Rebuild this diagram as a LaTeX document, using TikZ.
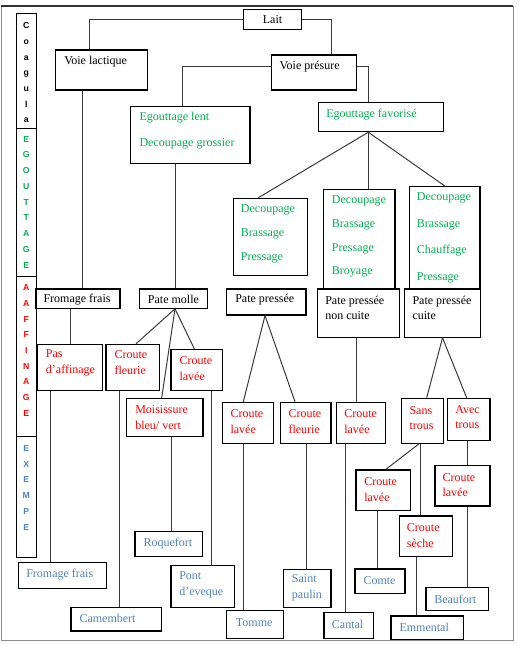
\documentclass[tikz,border=0pt]{standalone}
\usepackage{fontspec}
\setmainfont{Liberation Serif}
\newfontfamily\sidefont{Liberation Sans}
\usetikzlibrary{fit,calc}
\definecolor{grn}{HTML}{00B050}
\definecolor{rd}{HTML}{FF0000}
\definecolor{blu}{HTML}{4F81BD}
\definecolor{ln}{HTML}{3A3A3A}
\tikzset{
 box/.style={draw=black, line width=0.8pt, inner sep=0pt, rectangle},
 con/.style={draw=ln, line width=0.75pt},
 tx/.style={anchor=west, inner sep=0pt, align=left, font=\fontsize{9}{11.8}\selectfont},
 txg/.style={tx, text=grn},
 txr/.style={tx, text=rd},
 txb/.style={tx, text=blu},
 side/.style={align=center, inner sep=0pt, font=\sidefont\bfseries\fontsize{6.5}{11.8}\selectfont},
}
\begin{document}
\begin{tikzpicture}[x=0.75pt,y=-0.75pt]
\useasboundingbox (0,0) rectangle (518,646);
% outer frame
\draw[draw=black!45, line width=0.6pt] (1,6) rectangle (513,640);
\draw[draw=black!80, line width=1.5pt] (1,6) -- (513,6);

% side bar
\node[box, line width=0.7pt, fit={(16,13) (36,128)}] (s1) {};
\node[box, line width=0.7pt, fit={(16,128) (36,276)}] (s2) {};
\node[box, line width=0.7pt, fit={(16,276) (36,436)}] (s3) {};
\node[box, line width=0.7pt, fit={(16,436) (36,557)}] (s4) {};
\node[side] (l1) at (26.3,72.8) {C\\o\\a\\g\\u\\l\\a};
\node[side, text=grn] (l2) at (26.3,202.2) {E\\G\\O\\U\\T\\T\\A\\G\\E};
\node[side, text=rd] (l3) at (26.3,350.5) {A\\A\\F\\F\\I\\N\\A\\G\\E};
\node[side, text=blu] (l4) at (26.3,487.7) {E\\X\\E\\M\\P\\E};

% top levels
\node[box, fit={(243.3,9.3) (301.7,29.3)}] (lait) {};
\node[tx, anchor=center] (tlait) at (lait.center) {Lait};
\node[box, fit={(55.3,50) (147.7,90)}] (vl) {};
\node[tx] (tvl) at (64,61.5) {Voie lactique};
\node[box, fit={(271.7,55) (356.7,90)}] (vp) {};
\node[tx] (tvp) at (279.3,66.7) {Voie présure};
\node[box, fit={(130.7,106.7) (250,163.3)}] (el) {};
\node[txg, font=\fontsize{9}{19.5}\selectfont] (tel) at (139.3,131) {Egouttage lent\\Decoupage grossier};
\node[box, fit={(318.3,102.7) (443.3,131.7)}] (ef) {};
\node[txg] (tef) at (326,114.3) {Egouttage favorisé};

\node[box, fit={(233.3,198.3) (307.3,275.7)}] (bA) {};
\node[txg, font=\fontsize{9}{18}\selectfont] (tbA) at (240.7,234.2) {Decoupage\\Brassage\\Pressage};
\node[box, fit={(323.3,189.3) (395,288.3)}] (bB) {};
\node[txg, font=\fontsize{9}{17.9}\selectfont] (tbB) at (331.7,236.5) {Decoupage\\Brassage\\Pressage\\Broyage};
\node[box, fit={(409.3,186.7) (480,289)}] (bC) {};
\node[txg, font=\fontsize{9}{19.9}\selectfont] (tbC) at (416.7,238) {Decoupage\\Brassage\\Chauffage\\Pressage};

% pate row
\node[box, fit={(35.7,289) (120,308.3)}] (ff) {};
\node[tx] (tff) at (43.3,299.5) {Fromage frais};
\node[box, fit={(139.3,289) (207.3,308.3)}] (pm) {};
\node[tx] (tpm) at (147.7,299.5) {Pate molle};
\node[box, fit={(226.7,289) (306,315)}] (pp) {};
\node[tx] (tpp) at (235,300) {Pate pressée};
\node[box, fit={(317.3,289) (399.3,337.3)}] (ppnc) {};
\node[tx] (tppnc) at (325,308) {Pate pressée\\non cuite};
\node[box, fit={(404.3,289) (480.7,337.3)}] (ppc) {};
\node[tx] (tppc) at (412.3,308) {Pate pressée\\cuite};

% red level
\node[box, fit={(37.7,344.3) (102.7,390.7)}] (pas) {};
\node[txr] (tpas) at (45.7,362.8) {Pas\\d’affinage};
\node[box, fit={(106,344.3) (159.3,390.7)}] (cf1) {};
\node[txr] (tcf1) at (114.3,362.8) {Croute\\fleurie};
\node[box, fit={(171,349.3) (222.7,390.7)}] (cl1) {};
\node[txr] (tcl1) at (179.3,368.8) {Croute\\lavée};
\node[box, fit={(126.3,398.3) (203,436.7)}] (moi) {};
\node[txr] (tmoi) at (135,417.7) {Moisissure\\bleu/ vert};
\node[box, fit={(222.7,402.3) (273.3,443.3)}] (cl2) {};
\node[txr] (tcl2) at (230.3,421.3) {Croute\\lavée};
\node[box, fit={(280.7,402.3) (331,443.3)}] (cf2) {};
\node[txr] (tcf2) at (288.3,421.3) {Croute\\fleurie};
\node[box, fit={(336.7,402.3) (385.7,443.3)}] (cl3) {};
\node[txr] (tcl3) at (344,421.3) {Croute\\lavée};
\node[box, fit={(401.3,398.3) (443.3,443.3)}] (st) {};
\node[txr] (tst) at (409.3,418) {Sans\\trous};
\node[box, fit={(447.3,398.3) (490,440.7)}] (at) {};
\node[txr] (tat) at (455,417.2) {Avec\\trous};
\node[box, fit={(356,470) (410.7,510.7)}] (cl4) {};
\node[txr] (tcl4) at (364,489.5) {Croute\\lavée};
\node[box, fit={(399.3,516) (452.3,556.7)}] (cs) {};
\node[txr] (tcs) at (406.7,535.7) {Croute\\sèche};
\node[box, fit={(435,465.7) (490,506)}] (cl5) {};
\node[txr] (tcl5) at (442.3,485) {Croute\\lavée};

% examples
\node[box, fit={(18.3,562.3) (106.7,588.3)}] (exff) {};
\node[txb] (texff) at (26,574.5) {Fromage frais};
\node[box, fit={(71,607.3) (161.7,631)}] (cam) {};
\node[txb] (tcam) at (79.3,618.5) {Camembert};
\node[box, fit={(135,531.7) (202.7,556.7)}] (roq) {};
\node[txb] (troq) at (143.3,543.5) {Roquefort};
\node[box, fit={(171,565.7) (234.3,607.3)}] (pont) {};
\node[txb] (tpont) at (179,584.7) {Pont\\d’eveque};
\node[box, fit={(226.7,610.7) (283.3,638.3)}] (tom) {};
\node[txb] (ttom) at (235.7,622.5) {Tomme};
\node[box, fit={(283.3,569.3) (331,607.3)}] (sp) {};
\node[txb] (tsp) at (291.7,588) {Saint\\paulin};
\node[box, fit={(324,612.7) (373.3,638.3)}] (can) {};
\node[txb] (tcan) at (331.7,624) {Cantal};
\node[box, fit={(355,569) (405,593.3)}] (com) {};
\node[txb] (tcom) at (363.3,580.5) {Comte};
\node[box, fit={(391,616) (463.3,639.3)}] (emm) {};
\node[txb] (temm) at (399.3,627.2) {Emmental};
\node[box, fit={(426,587.7) (488.3,610.7)}] (bea) {};
\node[txb] (tbea) at (434,599.5) {Beaufort};

% connectors
\draw[con] (lait.west) -| (89,0 |- vl.north);
\draw[con] (lait.east) -| (331,0 |- vp.north);
\draw[con] (vp.west |- 0,66.7) -| (182.7,0 |- el.north);
\draw[con] (vp.east |- 0,66.7) -| (368.3,0 |- ef.north);
\coordinate (efb) at (368.3,0 |- ef.south);
\draw[con] (efb) -- (258.3,0 |- bA.north);
\draw[con] (efb) -- (efb |- bB.north);
\draw[con] (efb) -- (445,0 |- bC.north);
\draw[con] (82.3,0 |- vl.south) -- (82.3,0 |- ff.north);
\draw[con] (175.7,0 |- el.south) -- (175.7,0 |- pm.north);
\draw[con] (70.3,0 |- ff.south) -- (70.3,0 |- pas.north);
\coordinate (pmb) at (175,0 |- pm.south);
\draw[con] (pmb) -- (136,0 |- cf1.north);
\draw[con] (pmb) -- (161.7,0 |- moi.north);
\draw[con] (pmb) -- (194.3,0 |- cl1.north);
\coordinate (ppb) at (265,0 |- pp.south);
\draw[con] (ppb) -- (243.3,0 |- cl2.north);
\draw[con] (ppb) -- (295,0 |- cf2.north);
\draw[con] (356.3,0 |- ppnc.south) -- (356.3,0 |- cl3.north);
\draw[con] (ppc.south) -- (426.7,0 |- st.north);
\draw[con] (ppc.south) -- (466.7,0 |- at.north);
\draw[con] (419,0 |- st.south) -- (385.7,0 |- cl4.north);
\draw[con] (420,0 |- st.south) -- (420,0 |- cs.north);
\draw[con] (467.7,0 |- at.south) -- (467.7,0 |- cl5.north);
\draw[con] (50,0 |- pas.south) -- (50,0 |- exff.north);
\draw[con] (119.3,0 |- cf1.south) -- (119.3,0 |- cam.north);
\draw[con] (171,0 |- moi.south) -- (171,0 |- roq.north);
\draw[con] (211.7,0 |- cl1.south) -- (211.7,0 |- pont.north);
\draw[con] (243,0 |- cl2.south) -- (243,0 |- tom.north);
\draw[con] (306,0 |- cf2.south) -- (306,0 |- sp.north);
\draw[con] (345.7,0 |- cl3.south) -- (345.7,0 |- can.north);
\draw[con] (377.7,0 |- cl4.south) -- (377.7,0 |- com.north);
\draw[con] (416,0 |- cs.south) -- (416,0 |- emm.north);
\draw[con] (467.3,0 |- cl5.south) -- (467.3,0 |- bea.north);
\end{tikzpicture}
\end{document}
